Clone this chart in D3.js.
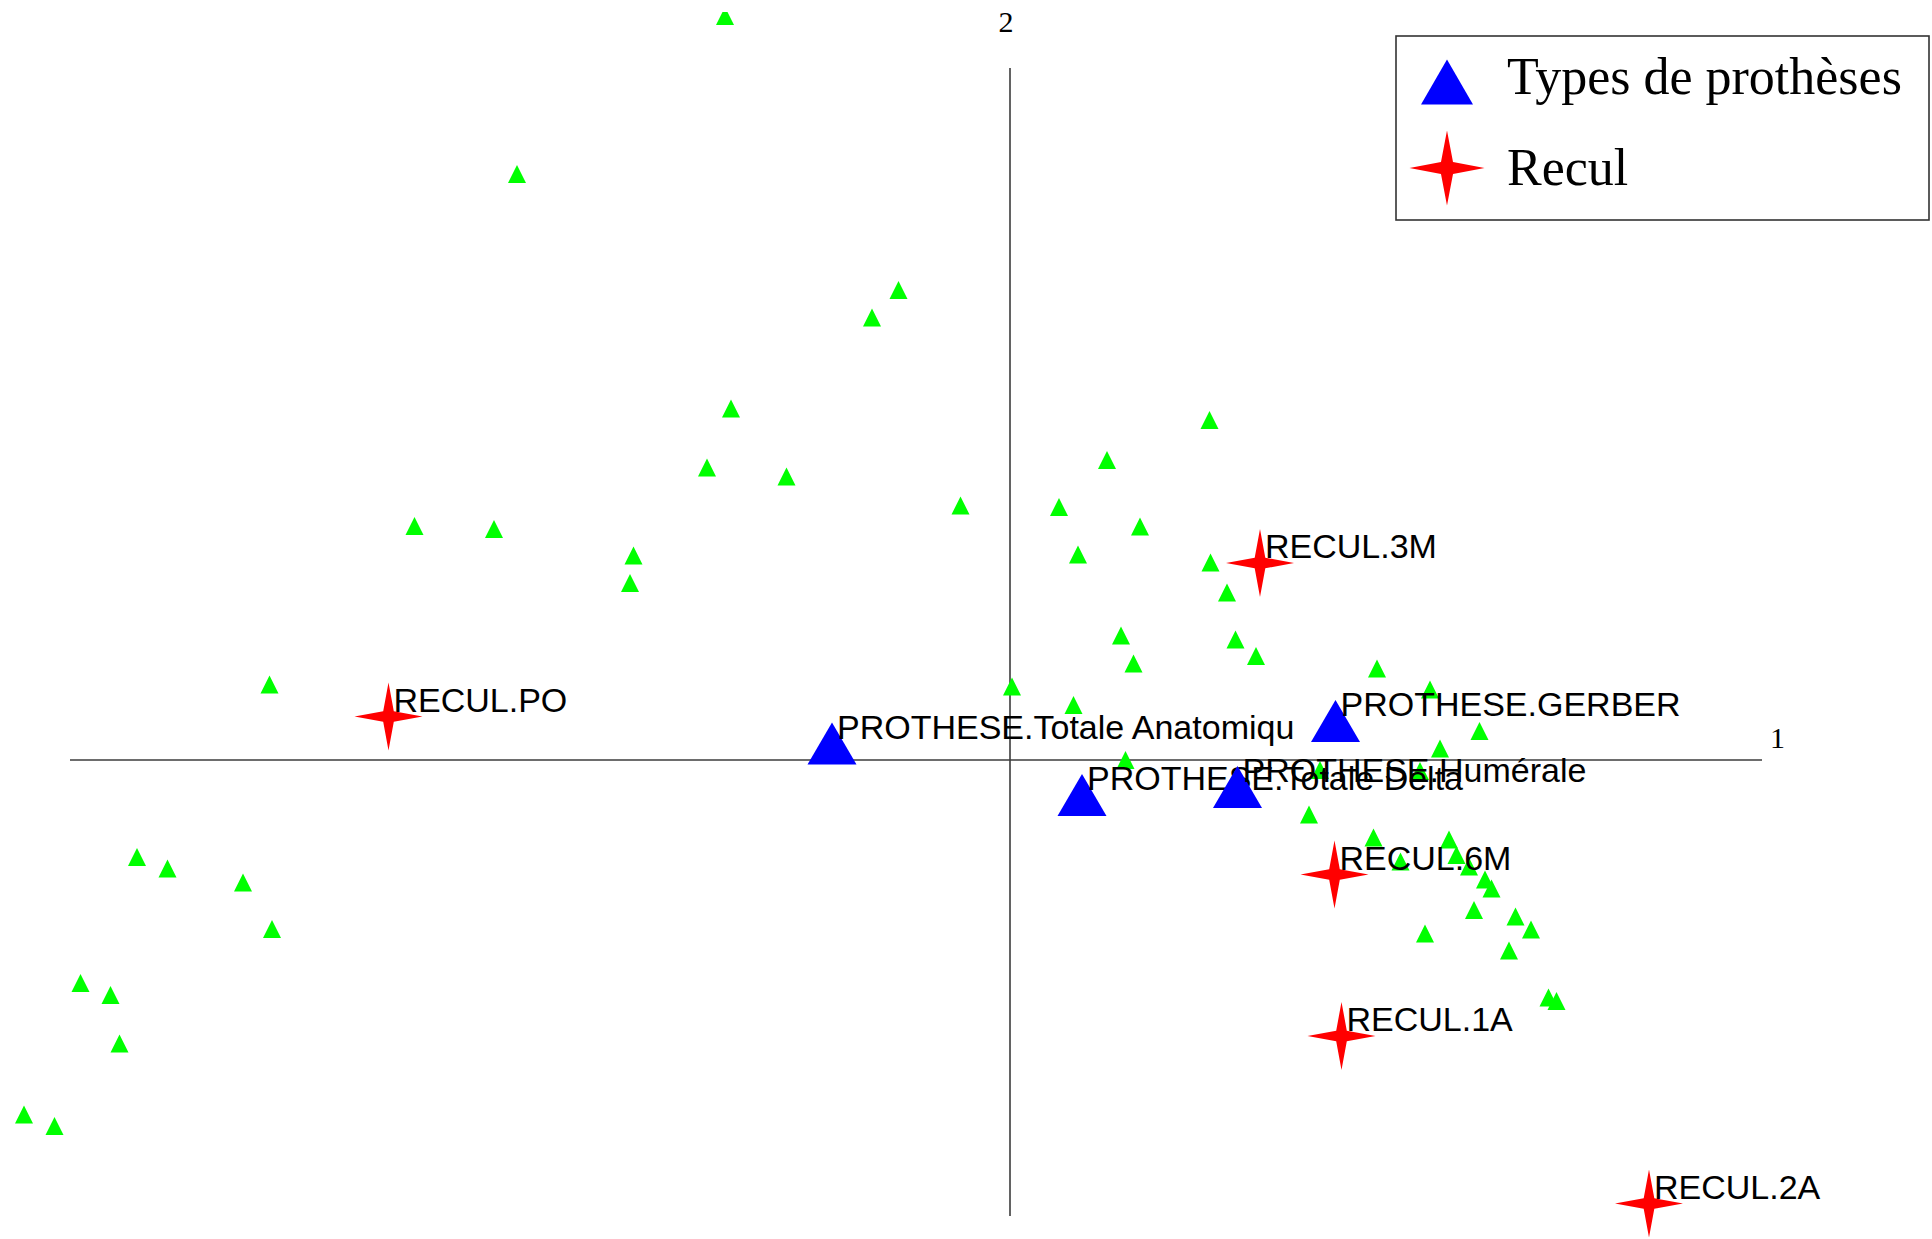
<!DOCTYPE html>
<html>
<head>
<meta charset="utf-8">
<script src="https://cdnjs.cloudflare.com/ajax/libs/d3/7.8.5/d3.min.js"></script>
<style>
  html, body { margin: 0; padding: 0; background: #ffffff; }
  svg { display: block; }
</style>
</head>
<body>
<div id="chart"></div>
<script>
// ---------------- DATA ----------------
// Individuals (supplementary points, green triangles): factor 1 (x), factor 2 (y)
const indivX = [-0.570, -0.986, -0.223, -0.276, -0.558, -0.606, -0.447, -1.191, -1.032, -0.753,
                -0.760, -0.099, 0.098, 0.136, 0.399, 0.194, 0.260, 0.401, 0.434, 0.222,
                0.451, 0.492, 0.247, 0.004, 0.127, 0.734, 0.840, 0.939, 0.860, 0.231,
                0.620, 0.820, 0.598, 0.727, 0.878, 0.781, 0.893, 0.918, 0.950, 0.963,
                0.928, 1.011, 1.042, 0.830, 0.998, 1.077, 1.093,
                -1.481, -1.746, -1.685, -1.534, -1.476, -1.859, -1.799, -1.781, -1.972, -1.911];
const indivY = [1.488, 1.172, 0.940, 0.885, 0.703, 0.585, 0.567, 0.468, 0.462, 0.409,
                0.354, 0.509, 0.506, 0.411, 0.680, 0.600, 0.467, 0.395, 0.335, 0.249,
                0.241, 0.208, 0.193, 0.147, 0.110, 0.183, 0.141, 0.058, 0.023, 0.000,
                -0.020, -0.022, -0.109, -0.155, -0.159, -0.203, -0.190, -0.213, -0.239, -0.257,
                -0.300, -0.313, -0.339, -0.347, -0.381, -0.475, -0.482,
                0.151, -0.194, -0.217, -0.245, -0.338, -0.446, -0.470, -0.567, -0.709, -0.732];

// Category "Types de prothèses" (blue triangles)
const protheseLabels = ["PROTHESE.Totale Anatomiqu", "PROTHESE.Totale Delta", "PROTHESE.GERBER", "PROTHESE.Humérale"];
const protheseX = [-0.356, 0.144, 0.651, 0.455];
const protheseY = [0.033, -0.070, 0.078, -0.054];

// Category "Recul" (red stars)
const reculLabels = ["RECUL.PO", "RECUL.3M", "RECUL.6M", "RECUL.1A", "RECUL.2A"];
const reculX = [-1.243, 0.500, 0.649, 0.663, 1.278];
const reculY = [0.087, 0.394, -0.229, -0.552, -0.887];

// Axes
const axisXExtent = [-1.880, 1.504];
const axisYExtent = [-0.912, 1.384];
const axisNames = ["1", "2"];

// Legend
const legendLabels = ["Types de prothèses", "Recul"];

// ---------------- LAYOUT ----------------
const W = 1932, H = 1239;
const svg = d3.select("#chart").append("svg").attr("width", W).attr("height", H);
svg.append("rect").attr("width", W).attr("height", H).attr("fill", "#ffffff");

const x = d3.scaleLinear().domain([-1, 1]).range([510, 1510]);
const y = d3.scaleLinear().domain([-1, 1]).range([1260, 260]);

const GREEN = "#00ff00", BLUE = "#0000ff", RED = "#ff0000";

function triPath(w, h) {
  return `M0,${-h/2}L${w/2},${h/2}L${-w/2},${h/2}Z`;
}
function starPath(R, r) {
  const d = r / Math.SQRT2;
  return `M0,${-R}L${d},${-d}L${R},0L${d},${d}L0,${R}L${-d},${d}L${-R},0L${-d},${-d}Z`;
}

svg.append("defs").append("clipPath").attr("id", "plotclip")
  .append("rect").attr("x", 0).attr("y", 12).attr("width", W).attr("height", H - 12);

// Axis lines
svg.append("line")
  .attr("x1", x(axisXExtent[0])).attr("x2", x(axisXExtent[1]))
  .attr("y1", y(0)).attr("y2", y(0))
  .attr("stroke", "#3c3c3c").attr("stroke-width", 1.6);
svg.append("line")
  .attr("x1", x(0)).attr("x2", x(0))
  .attr("y1", y(axisYExtent[1])).attr("y2", y(axisYExtent[0]))
  .attr("stroke", "#3c3c3c").attr("stroke-width", 1.6);

// Axis names
svg.append("text").text(axisNames[0])
  .attr("x", x(axisXExtent[1]) + 8).attr("y", y(0) - 12)
  .attr("font-family", "'Liberation Serif', 'Times New Roman', serif")
  .attr("font-size", 30).attr("fill", "#000");
svg.append("text").text(axisNames[1])
  .attr("x", x(0) - 4).attr("y", 32).attr("text-anchor", "middle")
  .attr("font-family", "'Liberation Serif', 'Times New Roman', serif")
  .attr("font-size", 30).attr("fill", "#000");

const plot = svg.append("g").attr("clip-path", "url(#plotclip)");

// Individuals
const indiv = indivX.map((v, i) => ({ x: v, y: indivY[i] }));
plot.selectAll("path.indiv").data(indiv).join("path")
  .attr("class", "indiv")
  .attr("d", triPath(18, 18))
  .attr("transform", d => `translate(${x(d.x)},${y(d.y)})`)
  .attr("fill", GREEN);

const labelFont = "'Liberation Sans', Arial, sans-serif";
const LDX = 5, LDY = -5;

// Prosthesis types
const prot = protheseLabels.map((l, i) => ({ label: l, x: protheseX[i], y: protheseY[i] }));
prot.forEach(d => {
  plot.append("path").attr("d", triPath(49, 42))
    .attr("transform", `translate(${x(d.x)},${y(d.y)})`)
    .attr("fill", BLUE);
  plot.append("text").text(d.label)
    .attr("x", x(d.x) + LDX).attr("y", y(d.y) + LDY)
    .attr("font-family", labelFont).attr("font-size", 34).attr("fill", "#000");
});

// Recul
const rec = reculLabels.map((l, i) => ({ label: l, x: reculX[i], y: reculY[i] }));
rec.forEach(d => {
  plot.append("path").attr("d", starPath(34, 7.5))
    .attr("transform", `translate(${x(d.x)},${y(d.y)})`)
    .attr("fill", RED);
  plot.append("text").text(d.label)
    .attr("x", x(d.x) + LDX).attr("y", y(d.y) + LDY)
    .attr("font-family", labelFont).attr("font-size", 34).attr("fill", "#000");
});

// Legend
const lg = svg.append("g");
lg.append("rect").attr("x", 1396).attr("y", 36).attr("width", 533).attr("height", 184)
  .attr("fill", "#ffffff").attr("stroke", "#333").attr("stroke-width", 1.6);
lg.append("path").attr("d", triPath(52, 45)).attr("transform", "translate(1447,82)").attr("fill", BLUE);
lg.append("path").attr("d", starPath(37.5, 8.5)).attr("transform", "translate(1447,168)").attr("fill", RED);
const legendFont = "'Liberation Serif', 'Times New Roman', serif";
lg.selectAll("text.leg").data(legendLabels).join("text")
  .attr("class", "leg")
  .attr("x", 1507).attr("y", (d, i) => i === 0 ? 94 : 185)
  .attr("font-family", legendFont).attr("font-size", 52).attr("fill", "#000")
  .text(d => d);
</script>
</body>
</html>
